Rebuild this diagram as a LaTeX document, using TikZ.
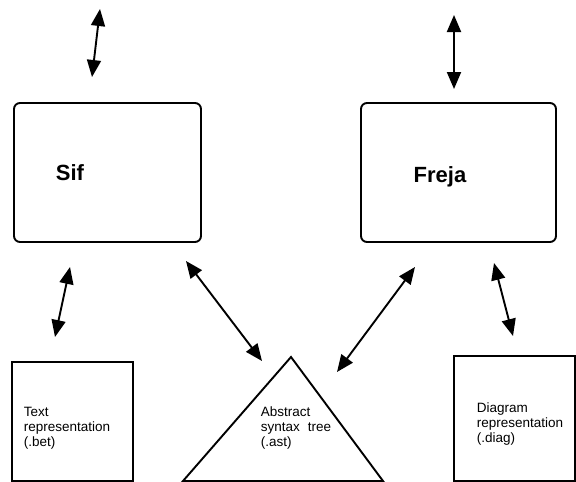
\documentclass[tikz,border=0pt]{standalone}
\usepackage{fontspec}
\setmainfont{Liberation Sans}
\usetikzlibrary{arrows.meta,positioning}
\tikzset{
  >={Triangle[length=17pt,width=14pt]},
}
\begin{document}
\begin{tikzpicture}[
  x=1pt, y=-1pt,
  line width=1.9pt,
  tool/.style={draw, rounded corners=6pt, minimum height=139pt, inner sep=0pt},
  file/.style={draw, line width=2.3pt, inner sep=0pt},
  toollbl/.style={font=\fontsize{22}{26}\selectfont\bfseries, anchor=base, inner sep=0pt},
  note/.style={font=\fontsize{13.5}{15}\selectfont, align=left, anchor=north west, inner sep=0pt}
]
\useasboundingbox (0,0) rectangle (576,482);

% the two editors
\node[tool, minimum width=187pt] (sif) at (107.5,172.5) {};
\node[tool, minimum width=195pt] (freja) at (458.5,172.5) {};
\node[toollbl] (siflbl) at (70,180) {Sif};
\node[toollbl] (frejalbl) at (440,182) {Freja};

% the three representations
\node[file, minimum width=121pt, minimum height=119pt] (bet) at (72.5,421.5) {};
\node[file, minimum width=121pt, minimum height=125pt] (diag) at (514.5,418.5) {};
\coordinate (astT) at (291,357);
\coordinate (astL) at (183,481);
\coordinate (astR) at (383,481);
\draw[line join=miter] (astT) -- (astL) -- (astR) -- cycle;

\node[note] (betlbl) at (23,406) {Text\\representation\\(.bet)};
\node[note] (astlbl) at (260,406) {Abstract\\syntax\hspace{8pt}tree\\(.ast)};
\node[note] (diaglbl) at (476,402) {Diagram\\representation\\(.diag)};

% arrow ends
\coordinate (sifT) at (100,9);
\coordinate (sifB) at (92,77);
\coordinate (frejaT) at (454,15);
\coordinate (frejaB) at (454,89);
\coordinate (betT) at (70,267);
\coordinate (betB) at (55,337);
\coordinate (sifastT) at (186,261);
\coordinate (sifastB) at (262,361);
\coordinate (frejaastT) at (415,267);
\coordinate (frejaastB) at (337,372);
\coordinate (diagT) at (494,263);
\coordinate (diagB) at (513,336);

\path
(sifT) edge[<->] (sifB)
(frejaT) edge[<->] (frejaB)
(betT) edge[<->] (betB)
(sifastT) edge[<->] (sifastB)
(frejaastT) edge[<->] (frejaastB)
(diagT) edge[<->] (diagB);

\end{tikzpicture}
\end{document}
